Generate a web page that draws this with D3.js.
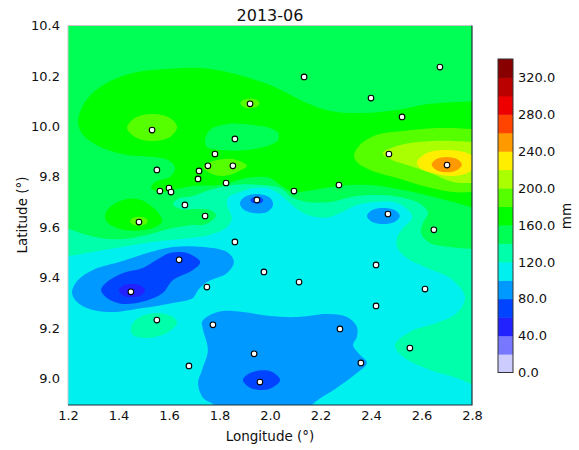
<!DOCTYPE html>
<html>
<head>
<meta charset="utf-8">
<script src="https://cdn.jsdelivr.net/npm/d3@7"></script>
<style>
  body { margin: 0; background: #fff; }
  text { font-family: "DejaVu Sans", sans-serif; fill: #111; }
</style>
</head>
<body>
<svg id="chart" width="579" height="450"></svg>
<script>
const title = "2013-06";
const xTicks = [1.2, 1.4, 1.6, 1.8, 2.0, 2.2, 2.4, 2.6, 2.8];
const yTicks = [9.0, 9.2, 9.4, 9.6, 9.8, 10.0, 10.2, 10.4];
const levels = [0, 20, 40, 60, 80, 100, 120, 140, 160, 180, 200, 220, 240, 260, 280, 300, 320, 340];
const levelTicks = [0, 40, 80, 120, 160, 200, 240, 280, 320];
const bandColors = ["#ccccff", "#7777ff", "#2222ff", "#0044ff", "#0099ff", "#00f0f0", "#00ffaa", "#00ff55", "#00ff00",
  "#55ff00", "#aaff00", "#ffee00", "#ff9900", "#ff4400", "#ee0000", "#bb0000", "#880000"];

// rain gauges, [lon, lat]
const stations = [[1.533,9.985],[1.921,10.089],[1.861,9.950],[1.782,9.890],[1.754,9.843],[1.853,9.843],[1.552,9.827],
  [1.719,9.823],[1.715,9.791],[1.826,9.775],[1.600,9.755],[1.608,9.739],[1.564,9.743],[1.663,9.688],[1.948,9.708],
  [2.135,10.196],[2.673,10.235],[2.400,10.112],[2.523,10.037],[2.471,9.890],[2.701,9.846],[2.273,9.767],[2.095,9.743],
  [2.467,9.652],[1.481,9.620],[1.743,9.644],[1.861,9.541],[1.640,9.470],[1.976,9.422],[1.449,9.343],[1.750,9.362],
  [1.552,9.231],[1.774,9.212],[1.937,9.097],[1.679,9.049],[1.960,8.985],[2.649,9.589],[2.420,9.450],[2.115,9.382],
  [2.614,9.354],[2.420,9.287],[2.277,9.196],[2.554,9.120],[2.360,9.061]];

// contour outlines, [lon, lat]; some run past the frame and get clipped
const main120 = [[1.129,9.481],[1.2,9.485],[1.299,9.501],[1.434,9.525],[1.564,9.545],[1.683,9.557],[1.762,9.569],[1.830,9.600],
  [1.849,9.636],[1.830,9.688],[1.834,9.716],[1.881,9.739],[1.933,9.755],[1.988,9.755],[2.032,9.735],[2.079,9.696],[2.131,9.656],
  [2.186,9.640],[2.238,9.640],[2.277,9.656],[2.344,9.688],[2.424,9.700],[2.503,9.696],[2.554,9.660],[2.562,9.636],[2.527,9.596],
  [2.503,9.557],[2.503,9.521],[2.542,9.477],[2.622,9.438],[2.713,9.398],[2.772,9.323],[2.740,9.259],[2.661,9.220],[2.554,9.184],
  [2.495,9.132],[2.527,9.085],[2.634,9.033],[2.740,9.001],[2.804,8.974],[2.871,8.946],[2.871,10.462],[1.129,10.462]];
const blob120 = [[1.449,9.200],[1.477,9.239],[1.552,9.259],[1.616,9.243],[1.632,9.220],[1.592,9.180],[1.513,9.160],[1.457,9.172]];
const main140 = [[1.129,9.608],[1.2,9.593],[1.248,9.577],[1.327,9.557],[1.418,9.553],[1.513,9.569],[1.616,9.596],[1.695,9.608],
  [1.735,9.608],[1.774,9.628],[1.786,9.648],[1.762,9.668],[1.711,9.672],[1.644,9.672],[1.616,9.692],[1.644,9.716],[1.683,9.720],
  [1.762,9.747],[1.853,9.767],[1.972,9.767],[2.040,9.755],[2.091,9.716],[2.146,9.700],[2.238,9.700],[2.277,9.708],[2.344,9.723],
  [2.436,9.727],[2.527,9.716],[2.602,9.688],[2.626,9.656],[2.606,9.616],[2.598,9.577],[2.634,9.537],[2.713,9.521],[2.808,9.513],
  [2.871,9.509],[2.871,10.462],[1.129,10.462]];
const main160 = [[1.240,10.017],[1.267,10.096],[1.339,10.164],[1.457,10.212],[1.592,10.227],[1.723,10.231],[1.830,10.215],
  [2.000,10.164],[2.067,10.132],[2.146,10.092],[2.238,10.061],[2.368,10.053],[2.503,10.065],[2.634,10.089],[2.804,10.100],
  [2.871,10.104],[2.871,9.652],[2.804,9.676],[2.661,9.716],[2.527,9.747],[2.396,9.767],[2.273,9.763],[2.170,9.747],[2.091,9.739],
  [2.040,9.767],[2.000,9.795],[1.909,9.795],[1.802,9.767],[1.695,9.763],[1.616,9.747],[1.564,9.739],[1.529,9.755],[1.545,9.779],
  [1.604,9.800],[1.624,9.835],[1.596,9.866],[1.537,9.878],[1.434,9.886],[1.327,9.918],[1.259,9.966]];
const pocket140 = [[1.743,9.946],[1.762,9.985],[1.830,10.009],[1.933,10.005],[2.000,9.993],[2.032,9.973],[2.032,9.946],[2.000,9.926],
  [1.909,9.906],[1.802,9.906],[1.750,9.918]];
const blob160 = [[1.347,9.648],[1.366,9.680],[1.418,9.708],[1.473,9.712],[1.525,9.688],[1.564,9.648],[1.572,9.620],[1.537,9.596],
  [1.457,9.585],[1.394,9.596],[1.354,9.620]];
const tiny180 = [[1.446,9.623],[1.456,9.636],[1.481,9.641],[1.506,9.636],[1.516,9.623],[1.506,9.610],[1.481,9.605],[1.456,9.610]];
const left180 = [[1.434,9.993],[1.465,10.033],[1.533,10.049],[1.604,10.033],[1.632,9.997],[1.604,9.958],[1.533,9.942],[1.465,9.958]];
const top180 = [[1.883,10.091],[1.894,10.104],[1.921,10.110],[1.948,10.104],[1.959,10.091],[1.948,10.078],[1.921,10.072],[1.894,10.078]];
const mid180 = [[1.735,9.839],[1.774,9.862],[1.853,9.870],[1.909,9.843],[1.869,9.819],[1.814,9.803],[1.762,9.815]];
const right180 = [[2.333,9.886],[2.356,9.926],[2.424,9.966],[2.527,9.981],[2.661,9.993],[2.808,9.989],[2.871,9.985],[2.871,9.739],
  [2.808,9.739],[2.725,9.739],[2.622,9.759],[2.503,9.795],[2.396,9.827],[2.344,9.858]];
const right200 = [[2.447,9.894],[2.515,9.926],[2.645,9.942],[2.808,9.938],[2.871,9.934],[2.871,9.771],[2.808,9.775],[2.725,9.779],
  [2.634,9.815],[2.542,9.846],[2.475,9.870]];
const right220 = [[2.582,9.858],[2.622,9.894],[2.701,9.906],[2.780,9.894],[2.808,9.874],[2.800,9.827],[2.725,9.803],[2.645,9.815],[2.594,9.835]];
const right240 = [[2.640,9.848],[2.658,9.869],[2.700,9.878],[2.742,9.869],[2.760,9.848],[2.742,9.827],[2.700,9.818],[2.658,9.827]];
const left80 = [[1.216,9.343],[1.240,9.390],[1.299,9.430],[1.406,9.462],[1.513,9.497],[1.616,9.521],[1.735,9.521],[1.830,9.501],
  [1.857,9.462],[1.830,9.418],[1.750,9.382],[1.715,9.350],[1.695,9.319],[1.616,9.299],[1.497,9.279],[1.366,9.263],[1.275,9.279],[1.228,9.311]];
const left60 = [[1.331,9.350],[1.354,9.382],[1.418,9.418],[1.497,9.438],[1.552,9.470],[1.604,9.497],[1.671,9.497],[1.723,9.462],
  [1.695,9.430],[1.616,9.390],[1.576,9.339],[1.513,9.309],[1.418,9.295],[1.354,9.319]];
const left40 = [[1.401,9.348],[1.416,9.366],[1.453,9.374],[1.490,9.366],[1.505,9.348],[1.490,9.330],[1.453,9.322],[1.416,9.330]];
const center80 = [[1.881,9.696],[1.901,9.720],[1.948,9.731],[2.000,9.716],[2.012,9.688],[1.988,9.660],[1.933,9.656],[1.893,9.672]];
const center60 = [[1.923,9.706],[1.930,9.716],[1.948,9.720],[1.966,9.716],[1.973,9.706],[1.966,9.697],[1.948,9.693],[1.930,9.697]];
const right80 = [[2.384,9.644],[2.403,9.667],[2.449,9.676],[2.495,9.667],[2.514,9.644],[2.495,9.621],[2.449,9.612],[2.403,9.621]];
const bottom80 = [[1.715,8.981],[1.731,9.033],[1.754,9.112],[1.735,9.192],[1.731,9.224],[1.762,9.251],[1.814,9.267],[1.893,9.263],
  [2.000,9.247],[2.107,9.243],[2.226,9.255],[2.305,9.243],[2.344,9.204],[2.344,9.164],[2.329,9.132],[2.356,9.093],[2.384,9.061],
  [2.344,9.021],[2.265,8.962],[2.170,8.898],[2.119,8.835],[1.842,8.835],[1.774,8.898],[1.735,8.922]];
const bottom60 = [[1.893,8.993],[1.921,9.021],[2.000,9.029],[2.040,8.993],[2.000,8.958],[1.960,8.954],[1.921,8.962]];

// [band floor in mm, outline], painted in this order over the 100 band
const layers = [[120, main120], [120, blob120], [140, main140], [160, main160], [140, pocket140], [160, blob160],
  [180, tiny180], [180, left180], [180, top180], [180, mid180], [180, right180], [200, right200], [220, right220], [240, right240],
  [80, left80], [60, left60], [40, left40], [80, center80], [60, center60], [80, right80], [80, bottom80], [60, bottom60]];

const svg = d3.select("#chart");
const plot = { left: 68, right: 472, top: 25.5, bottom: 405 };
const x = d3.scaleLinear().domain([1.2, 2.8]).range([plot.left, plot.right]);
const y = d3.scaleLinear().domain([8.894, 10.4]).range([plot.bottom, plot.top]);
const bandColor = d3.scaleThreshold().domain(levels.slice(1, -1)).range(bandColors);

svg.append("clipPath").attr("id", "plotClip").append("rect")
  .attr("x", plot.left).attr("y", plot.top)
  .attr("width", plot.right - plot.left).attr("height", plot.bottom - plot.top);

const map = svg.append("g").attr("clip-path", "url(#plotClip)");
map.append("rect")
  .attr("x", plot.left).attr("y", plot.top)
  .attr("width", plot.right - plot.left).attr("height", plot.bottom - plot.top)
  .attr("fill", bandColor(100));

const outline = d3.line().x(d => x(d[0])).y(d => y(d[1])).curve(d3.curveCatmullRomClosed);
map.selectAll("path.band").data(layers).join("path")
  .attr("class", "band")
  .attr("d", d => outline(d[1]))
  .attr("fill", d => bandColor(d[0]));

map.selectAll("circle").data(stations).join("circle")
  .attr("cx", d => x(d[0])).attr("cy", d => y(d[1])).attr("r", 2.8)
  .attr("fill", "#fff").attr("stroke", "#000").attr("stroke-width", 1.1);

function styleAxis(g, fontSize) {
  g.selectAll(".domain").remove();
  g.selectAll("text").attr("font-size", fontSize).attr("font-family", "DejaVu Sans");
}

const fmt = d3.format(".1f");
svg.append("g").attr("transform", `translate(0,${plot.bottom})`)
  .call(d3.axisBottom(x).tickValues(xTicks).tickFormat(fmt).tickSize(0).tickPadding(6))
  .call(styleAxis, 13);
svg.append("g").attr("transform", `translate(${plot.left},0)`)
  .call(d3.axisLeft(y).tickValues(yTicks).tickFormat(fmt).tickSize(0).tickPadding(8))
  .call(styleAxis, 13);

// frame: faint on the top and left, dark on the right and bottom
const frame = svg.append("g").attr("fill", "none");
frame.append("path").attr("stroke", "#c8c8c8").attr("stroke-width", 1)
  .attr("d", `M${plot.left},${plot.bottom}V${plot.top}H${plot.right}`);
frame.append("path").attr("stroke", "#1f3338").attr("stroke-width", 1.2)
  .attr("d", `M${plot.left},${plot.bottom}H${plot.right}V${plot.top}`);

svg.append("text").attr("x", 270).attr("y", 21).attr("text-anchor", "middle").attr("font-size", 16).text(title);
svg.append("text").attr("x", 270).attr("y", 441).attr("text-anchor", "middle").attr("font-size", 13.5).text("Longitude (°)");
svg.append("text").attr("transform", "translate(27,215) rotate(-90)").attr("text-anchor", "middle").attr("font-size", 13.5).text("Latitude (°)");

// colour bar
const bar = { left: 498, right: 513, top: 59, bottom: 372.5 };
const c = d3.scaleLinear().domain([0, 340]).range([bar.bottom, bar.top]);
svg.append("g").selectAll("rect").data(bandColors).join("rect")
  .attr("x", bar.left).attr("width", bar.right - bar.left)
  .attr("y", (d, i) => c(levels[i + 1]))
  .attr("height", (d, i) => c(levels[i]) - c(levels[i + 1]) + 0.5)
  .attr("fill", d => d);
svg.append("rect")
  .attr("x", bar.left).attr("y", bar.top)
  .attr("width", bar.right - bar.left).attr("height", bar.bottom - bar.top)
  .attr("fill", "none").attr("stroke", "#333").attr("stroke-width", 1);
svg.append("g").attr("transform", `translate(${bar.right},0)`)
  .call(d3.axisRight(c).tickValues(levelTicks).tickFormat(fmt).tickSize(0).tickPadding(5))
  .call(styleAxis, 13);
svg.append("text").attr("transform", "translate(571,216) rotate(-90)").attr("text-anchor", "middle").attr("font-size", 13.5).text("mm");
</script>
</body>
</html>
